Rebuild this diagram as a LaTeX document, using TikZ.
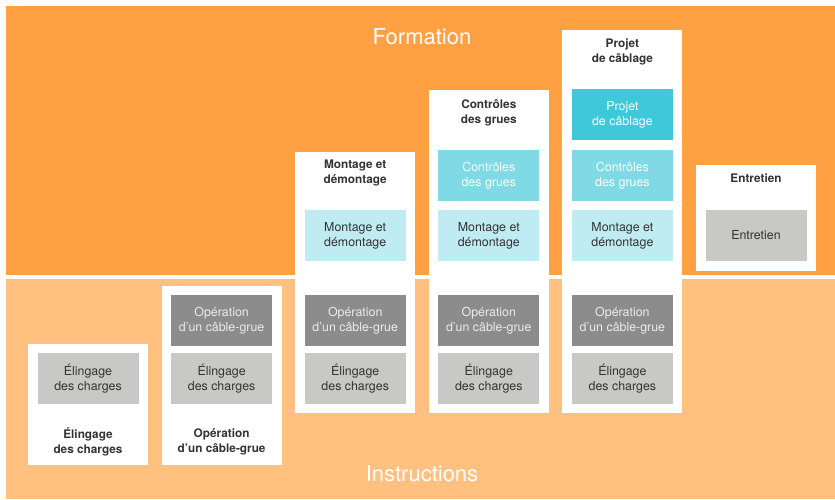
\documentclass[tikz,border=0pt]{standalone}
\usepackage{fontspec}
\setmainfont{TeX Gyre Heros}
\definecolor{formation}{HTML}{FFA043}
\definecolor{instruction}{HTML}{FFC080}
\definecolor{cyanlight}{HTML}{BFEBF2}
\definecolor{cyanmid}{HTML}{7FDAE6}
\definecolor{cyandark}{HTML}{3FC8DA}
\definecolor{greydark}{HTML}{8C8C8C}
\definecolor{greylight}{HTML}{C8C8C7}
\definecolor{txt}{HTML}{333333}
\begin{document}
\begin{tikzpicture}[x=1pt,y=-1pt,
	every node/.style={inner sep=0pt,align=center,font=\fontsize{12.4}{15}\selectfont},
	module/.style={minimum width=101pt,minimum height=51pt,text=txt},
	title/.style={font=\fontsize{11.8}{15}\selectfont\bfseries,text=txt},
	band/.style={font=\fontsize{22}{26}\selectfont,text=white}]
	\useasboundingbox (0,0) rectangle (835,500);
	\fill[white] (0,0) rectangle (835,500);
	\fill[formation] (6,6) rectangle (835,275);
	\fill[instruction] (6,279) rectangle (835,499);
	% white columns
	\foreach \x/\t/\b in {88/344/465,221.6/286/465,355.2/152/413,488.8/90/413,622.4/30/413,756/165/271}
		\fill[white] (\x-60,\t) rectangle (\x+60,\b);
	% modules
	\foreach \i/\x in {1/88,2/221.6,3/355.2,4/488.8,5/622.4}
		\node[module,fill=greylight] (sling\i) at (\x,378.5) {Élingage\\des charges};
	\foreach \i/\x in {2/221.6,3/355.2,4/488.8,5/622.4}
		\node[module,fill=greydark,text=white!92!black] (crane\i) at (\x,320.5) {Opération\\d’un câble-grue};
	\foreach \i/\x in {3/355.2,4/488.8,5/622.4}
		\node[module,fill=cyanlight] (mount\i) at (\x,235.5) {Montage et\\démontage};
	\foreach \i/\x in {4/488.8,5/622.4}
		\node[module,fill=cyanmid,text=white] (check\i) at (\x,175.5) {Contrôles\\des grues};
	\node[module,fill=cyandark,text=white] (plan5) at (622.4,114.5) {Projet\\de câblage};
	\node[module,fill=greylight] (care6) at (756,235.5) {Entretien};
	% column titles
	\node[title] (title1) at (88,442) {Élingage\\des charges};
	\node[title] (title2) at (221.6,442) {Opération\\d’un câble-grue};
	\node[title] (title3) at (355.2,173) {Montage et\\démontage};
	\node[title] (title4) at (488.8,112.5) {Contrôles\\des grues};
	\node[title] (title5) at (622.4,51.5) {Projet\\de câblage};
	\node[title] (title6) at (756,178) {Entretien};
	% bands
	\node[band] (formation) at (422,37) {Formation};
	\node[band] (instructions) at (422,474) {Instructions};
\end{tikzpicture}
\end{document}
